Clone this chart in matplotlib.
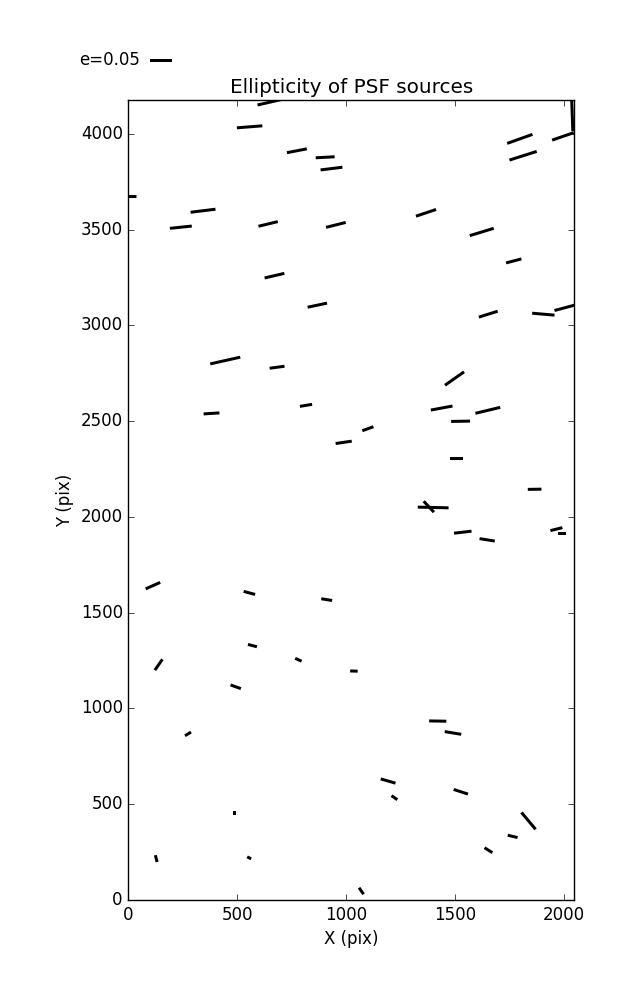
import numpy as np
import matplotlib
matplotlib.use('Agg')
import matplotlib.pyplot as plt

plt.style.use('classic')

# PSF source positions on the chip (pix)
x_pos = [674, 557, 774, 904, 933, 5, 343, 241, 642, 953, 671, 868,
         2038, 1996, 1798, 1813, 1367, 1623, 1770, 1653, 1906, 2006,
         445, 683, 382, 816, 989, 113, 556,
         1498, 1439, 1651, 1526, 1100, 1507, 1866, 1400, 1380, 1536, 1648, 1966, 1992,
         911, 570, 139, 781, 1036, 493, 274, 486, 128, 555, 1070,
         1421, 1491, 1193, 1222, 1527, 1838, 1765, 1654]
y_pos = [4171, 4036, 3911, 3877, 3818, 3672, 3598, 3512, 3529, 3524, 3259, 3105,
         4122, 3986, 3973, 3885, 3587, 3487, 3336, 3058, 3058, 3092,
         2816, 2781, 2540, 2582, 2389, 1641, 1603,
         2722, 2568, 2556, 2499, 2460, 2307, 2144, 2049, 2053, 1920, 1880, 1936, 1913,
         1568, 1328, 1228, 1254, 1195, 1113, 867, 455, 216, 220, 47,
         934, 872, 621, 534, 565, 413, 332, 260]
# ellipticity and orientation angle (deg)
ellip = [0.082, 0.058, 0.046, 0.043, 0.050, 0.032, 0.057, 0.050, 0.045, 0.046, 0.046, 0.045,
         0.095, 0.052, 0.061, 0.065, 0.048, 0.057, 0.036, 0.045, 0.051, 0.050,
         0.070, 0.034, 0.036, 0.028, 0.037, 0.036, 0.027,
         0.053, 0.050, 0.058, 0.043, 0.027, 0.030, 0.031, 0.070, 0.034, 0.040, 0.035, 0.028, 0.019,
         0.025, 0.021, 0.030, 0.016, 0.017, 0.025, 0.016, 0.010, 0.016, 0.010, 0.018,
         0.039, 0.038, 0.035, 0.016, 0.034, 0.050, 0.023, 0.021]
theta = [13, 4.5, 11, 3, 7, 0.5, 7, 6, 13.6, 14, 13, 12,
         92, 19, 19.6, 17.6, 18.5, 17, 14.7, 17.5, -5, 15,
         12.6, 7.6, 3.6, 9.5, 8.3, 23.8, -15,
         35, 10.5, 13.5, 1, 20, 0, 1, -1.3, -47, 6.6, -9, 14, 0,
         -9, -14.5, 55, -25, -1.5, -19.6, 31, 90, 104, -26.6, -55,
         -1, -9.4, -16, -33.7, -18, -50, -13.5, -32]

x_pos = np.array(x_pos)
y_pos = np.array(y_pos)
ellip = np.array(ellip)
theta = np.radians(theta)
U = ellip * np.cos(theta)
V = ellip * np.sin(theta)

fig = plt.figure(figsize=(6.37, 10))
fig.subplots_adjust(left=0.2015, right=0.9015, bottom=0.1, top=0.9)
ax = fig.add_subplot(111)

Q = ax.quiver(x_pos, y_pos, U, V, pivot='middle', headwidth=0, headlength=0,
              headaxislength=0, units='dots', width=3, scale_units='dots',
              scale=0.05 / 22., angles='uv', color='k')
# key for the stick length
ax.quiverkey(Q, 0.236, 0.94, 0.05, 'e=0.05', labelpos='W', coordinates='figure',
             fontproperties={'size': 12})

ax.set_xlim(0, 2048)
ax.set_ylim(0, 4176)
ax.set_xlabel('X (pix)')
ax.set_ylabel('Y (pix)')
ax.set_title('Ellipticity of PSF sources')

fig.savefig('out.png', dpi=100)
